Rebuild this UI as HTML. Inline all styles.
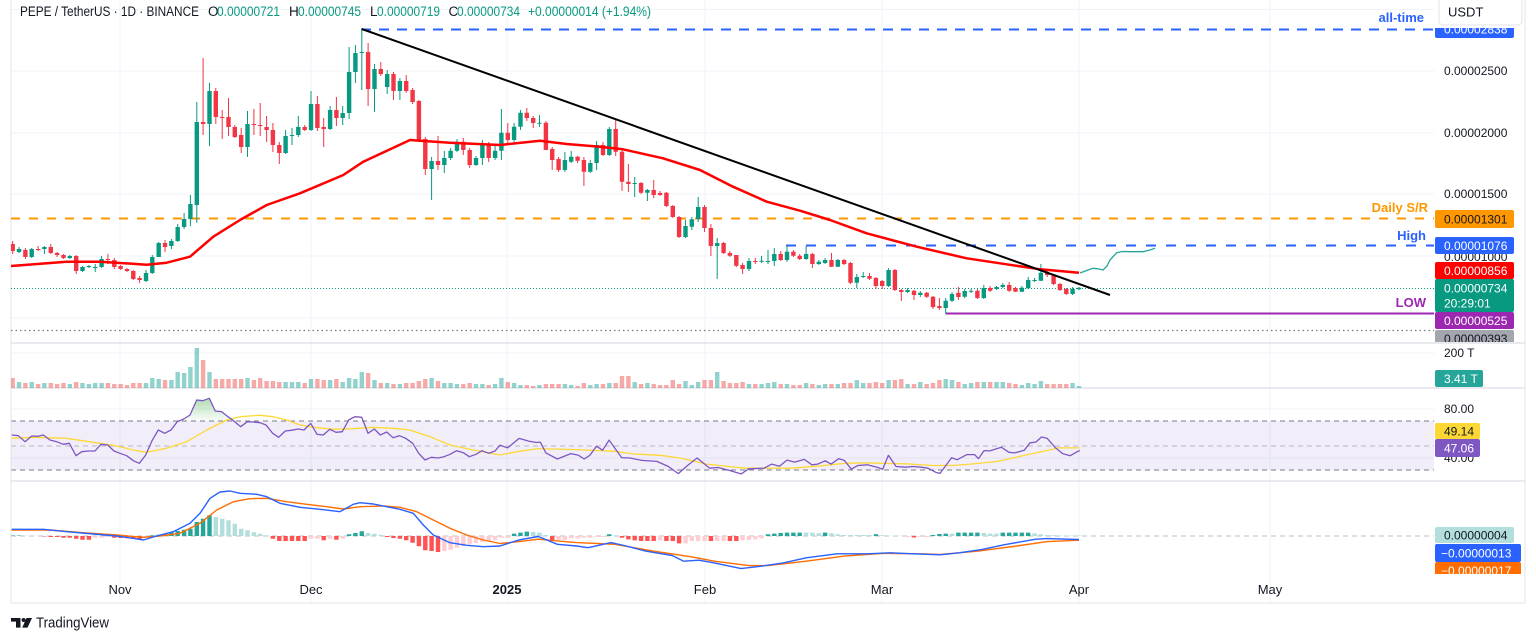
<!DOCTYPE html>
<html><head><meta charset="utf-8"><style>
html,body{margin:0;padding:0;background:#fff;}
svg{display:block;font-family:"Liberation Sans",Arial,sans-serif;}
</style></head><body>
<svg width="1536" height="641" viewBox="0 0 1536 641" xmlns="http://www.w3.org/2000/svg">
<defs>
<clipPath id="pane"><rect x="11" y="0" width="1423" height="603"/></clipPath>
<clipPath id="athTag"><rect x="1435" y="28" width="80" height="10"/></clipPath>
<clipPath id="grayTag"><rect x="1435" y="330" width="80" height="12"/></clipPath>
<clipPath id="orgTag"><rect x="1435" y="562" width="90" height="12"/></clipPath>
<linearGradient id="obg" x1="0" y1="0" x2="0" y2="1"><stop offset="0" stop-color="#4caf50" stop-opacity="0.45"/><stop offset="1" stop-color="#4caf50" stop-opacity="0.02"/></linearGradient>
</defs>
<rect width="1536" height="641" fill="#fff"/>

<!-- grid -->
<g stroke="#f0f3fa" stroke-width="1">
<path d="M11 9.5H1434M11 71H1434M11 133H1434M11 194H1434M11 256H1434M11 318H1434M11 353H1434M11 409H1434M11 458H1434"/>
<path d="M120 0V603M311 0V603M507 0V603M705 0V603M882 0V603M1079 0V603M1270 0V603"/>
</g>

<!-- RSI band -->
<rect x="11" y="421" width="1423" height="49" fill="#7e57c2" fill-opacity="0.1"/>
<g stroke="#787b86" stroke-width="1" stroke-dasharray="5 4" fill="none">
<path d="M11 421H1434M11 470H1434"/>
<path d="M11 446H1434" stroke-opacity="0.5"/>
<path d="M11 536H1434" stroke-opacity="0.5"/>
</g>

<!-- frame -->
<rect x="11" y="-1" width="1514" height="604" fill="none" stroke="#e0e3eb" stroke-width="1"/>
<path d="M11 343H1525M11 388H1525M11 481H1525" stroke="#e0e3eb" stroke-width="1.5"/>

<g clip-path="url(#pane)">
<!-- horizontal levels -->
<path d="M361 29.5H1434" stroke="#2962ff" stroke-width="2" stroke-dasharray="10 8"/>
<path d="M11 218.5H1434" stroke="#ff9800" stroke-width="2" stroke-dasharray="9 9"/>
<path d="M786 245.5H1434" stroke="#2962ff" stroke-width="2" stroke-dasharray="10 10"/>
<path d="M11 288.5H1434" stroke="#089981" stroke-width="1" stroke-dasharray="1 2"/>
<path d="M945.7 313.5H1434" stroke="#9c27b0" stroke-width="2"/>
<path d="M11 330.5H1434" stroke="#787b86" stroke-width="1.2" stroke-dasharray="1.5 3"/>

<!-- candles green -->
<path stroke="#089981" stroke-width="1" fill="none" d="M19 247V253M31.7 248V258M44.4 246V254M69.8 255V259M82.5 266V272M88.9 265V268M95.2 264V272M101.6 256V268M146 270V282M152.3 255V274M158.7 242V257M171.4 239V249M177.7 224V242M184.1 213V229M190.4 195V226M196.8 102V223M209.5 83V146M247.5 111V157M285.6 130V154M292 128V145M298.3 116V137M311 91V131M330.1 106V130M342.7 106V125M349.1 47V119M355.4 45V83M361.8 29V90M374.5 64V112M387.2 70V94M399.9 78V100M431.6 157V200M444.3 151V173M450.6 148V160M457 139V152M476 156V166M482.4 140V165M495.1 146V160M501.4 109V160M514.1 123V142M520.5 110V130M539.5 115V127M564.9 152V172M571.2 151V163M590.3 160V173M596.6 141V170M609.3 127V156M634.7 177V197M647.4 189V201M685.5 220V238M691.8 217V230M698.2 197V222M717.2 238V279M749 258V271M761.6 256V263M768 250V264M774.3 248V266M787 246V262M806.1 246V260M818.8 260V265M825.1 258V264M837.8 259V267M856.8 274V288M863.2 272V278M888.6 268V287M907.6 288V293M920.3 291V297M945.7 298V314M952 292V302M964.7 289V298M971.1 289V293M983.8 285V299M996.5 286V290M1002.8 283V288M1021.9 286V292M1028.2 277V289M1034.6 278V282M1040.9 264V281M1072.6 287V295M1079 287V290"/>
<path stroke="#089981" stroke-width="4.4" fill="none" d="M19 249V252M31.7 249V257M44.4 247V249M69.8 256V258M82.5 267V271M88.9 266V267M95.2 267V268M101.6 259V267M146 273V281M152.3 257V273M158.7 243V257M171.4 241V246M177.7 227V241M184.1 219V227M190.4 204V219M196.8 122V205M209.5 91V124M247.5 124V147M285.6 136V153M292 135V136M298.3 127V135M311 104V130M330.1 110V129M342.7 113V118M349.1 72V113M355.4 53V72M361.8 52V53M374.5 69V89M387.2 74V87M399.9 81V91M431.6 161V169M444.3 158V165M450.6 150.7V158M457 141.7V150.7M476 158V165M482.4 145V158M495.1 150.7V158M501.4 132.7V150.7M514.1 126.7V140M520.5 112.7V126.7M539.5 122.7V123.7M564.9 160V170M571.2 156.7V161.7M590.3 163V171.7M596.6 145V163M609.3 129V155M634.7 183V184M647.4 190V192.7M685.5 226V237M691.8 219.3V226.7M698.2 207V219M717.2 243V246M749 261V269M761.6 260.7V261.7M768 261V262M774.3 254V261M787 251.7V260M806.1 254V259M818.8 261.7V264M825.1 260V263M837.8 260V266.7M856.8 277V282.7M863.2 276V277M888.6 270V286M907.6 290V292M920.3 292.7V295M945.7 300.7V308M952 294V300.7M964.7 291V296.7M971.1 290.7V291.7M983.8 288V298M996.5 287V289M1002.8 285V287M1021.9 287.7V291.7M1028.2 280V288.3M1034.6 280V281M1040.9 272.7V280.7M1072.6 289V294M1079 287.7V289.3"/>
<!-- candles red -->
<path stroke="#f23645" stroke-width="1" fill="none" d="M12.7 241V254M25.4 248V259M38.1 246V251M50.8 244V254M57.1 252V257M63.5 254V259M76.2 255V274M107.9 254V264M114.3 258V269M120.6 265V270M127 268V272M133.3 270V280M139.6 276V283M165 240V252M203.1 58V135M215.8 88V124M222.2 110V139M228.5 98V136M234.8 125V138M241.2 128V153M253.9 109V135M260.2 103V136M266.6 116V142M272.9 123V152M279.3 142V164M304.7 125V131M317.4 96V131M323.7 118V147M336.4 97V126M368.1 43V106M380.8 62V76M393.5 72V100M406.2 75V93M412.6 88V104M418.9 100V142M425.3 137V175M438 136V170M463.3 138V155M469.7 148V168M488.7 142V162M507.8 123V143M526.8 108V121M533.2 116V128M545.9 121V150M552.2 147V170M558.6 157V172M577.6 156V163M583.9 157V186M603 142V156M615.7 119V156M622 148V191M628.4 164V192M641.1 182V194M653.7 180V198M660.1 191V196M666.4 192V207M672.8 205V218M679.1 216V238M704.5 205V232M710.9 224V256M723.6 242V254M729.9 251V257M736.3 255V267M742.6 263V274M755.3 258V264M780.7 251V261M793.4 250V257M799.7 254V260M812.4 253V268M831.5 253V267M844.1 259V265M850.5 262V284M869.5 273V280M875.9 277V289M882.2 280V289M894.9 269V291M901.3 289V301M914 290V300M926.7 292V298M933 296V309M939.4 298V310M958.4 287V300M977.4 289V299M990.1 286V292M1009.2 282V292M1015.5 287V292M1047.2 270V277M1053.6 274V285M1059.9 283V291M1066.3 288V295"/>
<path stroke="#f23645" stroke-width="4.4" fill="none" d="M12.7 244V251M25.4 250V257M38.1 249V250M50.8 247V253M57.1 253V255M63.5 255V258M76.2 256V271M107.9 259V260M114.3 260V267M120.6 266V269M127 269V271M133.3 271V279M139.6 278V280M165 243V247M203.1 122V124M215.8 91V117M222.2 117V118M228.5 117V127M234.8 127V137M241.2 135V147M253.9 124V125M260.2 125V126M266.6 127V130M272.9 130V145M279.3 145V153M304.7 127V130M317.4 104V128M323.7 127V129M336.4 110V118M368.1 52V89M380.8 69V74M393.5 74V91M406.2 81V91M412.6 90V102M418.9 101V141M425.3 139V169M438 161V165M463.3 141.7V150M469.7 150V165M488.7 145V158M507.8 132.7V140M526.8 112.7V118M533.2 118V123M545.9 122.7V150M552.2 149V160M558.6 159V170M577.6 156.7V160.7M583.9 160V171.7M603 145V155M615.7 129V151.7M622 151.7V181.7M628.4 181.7V184M641.1 183V192.7M653.7 190V195M660.1 193V195M666.4 192.7V206M672.8 206V217M679.1 217V237M704.5 207V228M710.9 228V246M723.6 243V253M729.9 253V255.7M736.3 255V265.7M742.6 265V269M755.3 261V262M780.7 254V260M793.4 251.7V255.7M799.7 255.7V259M812.4 254V264M831.5 260V266.7M844.1 260V264M850.5 263V282.7M869.5 276V278.7M875.9 278V286M882.2 281V286M894.9 270V290M901.3 290V292M914 290.7V295M926.7 292.7V296.7M933 296.7V307M939.4 306V308M958.4 292.7V297M977.4 290.7V298M990.1 288V290.7M1009.2 285V290.7M1015.5 288V291.7M1047.2 272.7V275M1053.6 275V284M1059.9 284V290M1066.3 289V294"/>

<!-- EMA -->
<polyline fill="none" stroke="#ff0000" stroke-width="2.5" stroke-linejoin="round" points="11,266 66.7,261.7 100,261.7 146.7,264.7 166.7,262.7 190,256.7 213.3,236.7 240,220 266.7,205 300,193.3 343.3,175 363.3,161.7 410,140 420,140.7 450,142.7 500,145 540,140.7 566.7,144 600,146.7 623,149.3 663,158.3 700,170 733,186.7 766.7,201.7 800,210.7 830,220 866.7,233.3 916.7,246.7 966.7,258.3 1000,263.3 1040,269.3 1079,272.7"/>
<!-- projection -->
<polyline fill="none" stroke="#26a69a" stroke-width="1.3" stroke-linejoin="round" points="1080,273 1088,270 1093,268.3 1098,268.8 1103,270 1107,266 1110,260 1116.7,252.7 1122,251.5 1130,251.7 1143,251.7 1150,250 1155,248.3"/>
<!-- trend line -->
<path d="M361.8 29L1110 295" stroke="#000" stroke-width="2" fill="none"/>

<!-- volume -->
<path stroke="#26a69a" stroke-opacity="0.5" stroke-width="4.4" fill="none" d="M19 388V382M31.7 388V382M44.4 388V383M69.8 388V384M82.5 388V383M88.9 388V384M95.2 388V383M101.6 388V383M146 388V383M152.3 388V378M158.7 388V379M171.4 388V380M177.7 388V372M184.1 388V373M190.4 388V367M196.8 388V348M209.5 388V372M247.5 388V378M285.6 388V382M292 388V382M298.3 388V382M311 388V379M330.1 388V380M342.7 388V382M349.1 388V378M355.4 388V379M361.8 388V372M374.5 388V380M387.2 388V383M399.9 388V384M431.6 388V378M444.3 388V383M450.6 388V383M457 388V384M476 388V384M482.4 388V384M495.1 388V384M501.4 388V378M514.1 388V383M520.5 388V385M539.5 388V385M564.9 388V384M571.2 388V385M590.3 388V385M596.6 388V384M609.3 388V383M634.7 388V382M647.4 388V383M685.5 388V381M691.8 388V385M698.2 388V382M717.2 388V372M749 388V384M761.6 388V384M768 388V383M774.3 388V382M787 388V384M806.1 388V383M818.8 388V385M825.1 388V384M837.8 388V384M856.8 388V380M863.2 388V383M888.6 388V380M907.6 388V384M920.3 388V382M945.7 388V379M952 388V380M964.7 388V384M971.1 388V383M983.8 388V382M996.5 388V382M1002.8 388V382M1021.9 388V385M1028.2 388V383M1034.6 388V384M1040.9 388V381M1072.6 388V383M1079 388V386"/>
<path stroke="#ef5350" stroke-opacity="0.5" stroke-width="4.4" fill="none" d="M12.7 388V378M25.4 388V383M38.1 388V384M50.8 388V383M57.1 388V384M63.5 388V383M76.2 388V382M107.9 388V383M114.3 388V384M120.6 388V384M127 388V385M133.3 388V383M139.6 388V383M165 388V380M203.1 388V360M215.8 388V379M222.2 388V379M228.5 388V379M234.8 388V379M241.2 388V379M253.9 388V380M260.2 388V378M266.6 388V381M272.9 388V381M279.3 388V382M304.7 388V383M317.4 388V379M323.7 388V380M336.4 388V379M368.1 388V373M380.8 388V383M393.5 388V384M406.2 388V383M412.6 388V383M418.9 388V381M425.3 388V379M438 388V381M463.3 388V384M469.7 388V383M488.7 388V385M507.8 388V382M526.8 388V385M533.2 388V386M545.9 388V384M552.2 388V384M558.6 388V384M577.6 388V386M583.9 388V383M603 388V384M615.7 388V383M622 388V376M628.4 388V376M641.1 388V384M653.7 388V384M660.1 388V385M666.4 388V385M672.8 388V380M679.1 388V384M704.5 388V380M710.9 388V380M723.6 388V381M729.9 388V383M736.3 388V383M742.6 388V382M755.3 388V384M780.7 388V384M793.4 388V385M799.7 388V385M812.4 388V384M831.5 388V384M844.1 388V383M850.5 388V383M869.5 388V383M875.9 388V382M882.2 388V383M894.9 388V380M901.3 388V379M914 388V384M926.7 388V384M933 388V383M939.4 388V380M958.4 388V382M977.4 388V382M990.1 388V382M1009.2 388V383M1015.5 388V384M1047.2 388V384M1053.6 388V384M1059.9 388V384M1066.3 388V384"/>

<!-- RSI -->
<polygon fill="url(#obg)" points="179,421 183.7,419 190,415 196.7,400 202.7,400.7 209.3,398.3 215.3,411 221.7,411.7 228,416.7 234,421"/>
<polyline fill="none" stroke="#fdd835" stroke-width="1.3" stroke-linejoin="round" points="11.7,438.3 33.3,437.3 66.7,438.3 100,443.3 116.7,446 133.3,450 146.7,452.3 166.7,448.3 186.7,441.7 206.7,430 226.7,420 240,416.7 260,415.3 273.3,416.7 286.7,420 300,425 313.3,427.3 333.3,429.3 353.3,428.7 373.3,427.3 393.3,428.3 410,430 430,436.7 450,445 473.3,450 500,455 519.1,451.3 538.3,448.6 576.5,449.6 614.8,451.3 633.9,454 660.7,455.3 679.9,458 706.7,464.1 744.9,468.2 790.9,468.2 821.5,465.8 844.4,463.4 863.6,462.8 882.7,463.4 905.7,463.8 932.5,465.5 951.6,465.5 970.7,464.1 997.5,461.4 1020.5,456.3 1043.4,451.3 1058.7,447.9 1079.8,447.9"/>
<polyline fill="none" stroke="#7e57c2" stroke-width="1.3" stroke-linejoin="round" points="11.7,435 18.3,435.7 25,441.7 31.7,436 38.3,436.3 43.3,435 50,440 56.7,441.7 63.3,444.3 69.3,443.3 76,455.7 81.7,451.7 88.3,451 95,451 101,444.3 107.7,445 114,451 120,453.3 126.7,455.7 133.3,460.7 139.3,463.3 145.7,455 152,440.7 158.3,430 164.7,433.3 171,430 177.3,421.7 183.7,419 190,415 196.7,400 202.7,400.7 209.3,398.3 215.3,411 221.7,411.7 228,416.7 234.7,421.7 240.7,426.7 247.3,421.7 253.3,422 260,422.7 266,425 272.7,433.3 278.7,437.3 285.3,431 291.3,430.3 298,429 304,430 310.7,423.3 317,434.3 323.3,435 329.7,429.3 336,432.3 342.3,431.7 348.7,420 355,416.7 361.7,417.3 368,433.3 374.3,429 380.3,435 386.7,432 393,437.7 399.3,435.7 405.7,438.3 412.7,443.3 418.7,453.3 425,460 431.3,457.3 438,458 444,456.7 450,454.3 456.7,450.7 463.3,452.7 469.3,456.7 476,454.3 482,450.7 488.7,453.3 495,451 500,445.2 507.7,447.9 519.1,438.4 528.7,441.1 536.4,442.5 540.2,442.1 545.9,452.9 557.4,459 570.8,453.6 578.5,455.3 584.2,459 589.9,455.3 596.4,446.2 602.6,450.2 609.1,440.1 621.7,457.7 630.1,458 641.6,460.4 656.9,461.4 668.4,466.5 678.3,473.6 687.5,465.5 697.1,458 709.7,468.2 718.1,467.5 729.6,470.5 741.1,473.9 748.8,468.8 764.1,468.2 771.7,464.1 779.4,466.2 787,460.1 794.7,462.1 804.3,459.4 811.9,464.8 817.6,464.1 825.3,460.8 831,464.1 838.7,458.7 844.4,460.4 851.3,469.2 857.8,465.5 867.4,464.8 877,467.2 882.7,469.2 888.4,455.3 896.1,466.5 905.7,467.2 913.3,466.5 921,467.2 927.9,468.2 936.3,472.6 940.1,473.3 951.6,457.7 957.3,459.7 966.9,454.6 974.6,454.6 978.4,458.7 984.1,450.6 989.8,450.9 1001.3,447.2 1008.9,452.3 1014.7,452.9 1024.3,450.2 1030,442.8 1035.8,442.1 1041.5,437 1047.3,438.4 1054.9,447.2 1062.6,453.6 1070.2,455.7 1077.9,451.3 1079.8,450.6"/>

<!-- MACD histogram -->
<path stroke="#26a69a" stroke-width="4.4" fill="none" d="M12.7 536V535.5M19 536V535.5M152.3 536V535.3M158.7 536V534.7M165 536V533.7M171.4 536V532.3M177.7 536V531M184.1 536V529.7M190.4 536V528.7M196.8 536V522M203.1 536V518.7M209.5 536V515.3M349.1 536V534.3M355.4 536V533M361.8 536V531.3M514.1 536V533.6M520.5 536V532.6M526.8 536V531.6M609.3 536V534.3M768 536V534.3M774.3 536V533.6M780.7 536V533M787 536V532.6M793.4 536V532.6M799.7 536V532.6M825.1 536V532.6M875.9 536V534.3M933 536V535M939.4 536V534M945.7 536V533.6M958.4 536V532.6M964.7 536V532.6M971.1 536V532.6M977.4 536V532.6M1002.8 536V532.6M1009.2 536V532.6M1015.5 536V532.6M1021.9 536V532.6M1028.2 536V532.6"/>
<path stroke="#b2dfdb" stroke-width="4.4" fill="none" d="M25.4 536V535.7M31.7 536V535.7M38.1 536V535.7M215.8 536V517M222.2 536V518.7M228.5 536V520.3M234.8 536V523.7M241.2 536V528.7M247.5 536V530.3M253.9 536V532.3M260.2 536V533.7M266.6 536V535.3M368.1 536V533M374.5 536V533.7M380.8 536V534.7M533.2 536V532M539.5 536V532.6M545.9 536V535M615.7 536V535.3M806.1 536V532.6M812.4 536V532.6M818.8 536V533.3M831.5 536V533.3M837.8 536V534.3M844.1 536V535M850.5 536V535M856.8 536V535M863.2 536V535M869.5 536V535M882.2 536V535.3M888.6 536V535.7M894.9 536V535.7M901.3 536V535.7M952 536V533.6M983.8 536V533M990.1 536V533.6M996.5 536V533.6M1034.6 536V533.3M1040.9 536V534.3M1047.2 536V535M1053.6 536V535.3M1059.9 536V535.5M1066.3 536V535.5M1072.6 536V535.5M1079 536V535.5"/>
<path stroke="#ff5252" stroke-width="4.4" fill="none" d="M44.4 536V536.5M50.8 536V537M57.1 536V537M63.5 536V537.7M69.8 536V537.7M76.2 536V538.7M82.5 536V539.7M88.9 536V539.7M114.3 536V537.7M120.6 536V538M127 536V538.3M133.3 536V539M139.6 536V539.3M272.9 536V538.7M279.3 536V541M285.6 536V541M292 536V541M298.3 536V541M304.7 536V541M323.7 536V540.3M336.4 536V539.7M387.2 536V537M393.5 536V538M399.9 536V538.7M406.2 536V540.3M412.6 536V542.7M418.9 536V546.3M425.3 536V550.3M431.6 536V551M438 536V552M552.2 536V540M622 536V537.7M628.4 536V539.4M634.7 536V540.4M641.1 536V541M647.4 536V541M653.7 536V541M666.4 536V541M672.8 536V541M679.1 536V543.4M710.9 536V541M729.9 536V541M736.3 536V541M914 536V537.5"/>
<path stroke="#ffcdd2" stroke-width="4.4" fill="none" d="M95.2 536V537.7M101.6 536V537.7M107.9 536V537M146 536V537M311 536V538.7M317.4 536V538.7M330.1 536V538.7M342.7 536V538.7M444.3 536V551M450.6 536V549.7M457 536V547.7M463.3 536V546.3M469.7 536V544.3M476 536V543M482.4 536V542M488.7 536V541M495.1 536V540.3M501.4 536V537.7M507.8 536V537.7M558.6 536V540M564.9 536V540M571.2 536V538.4M577.6 536V538.4M583.9 536V537.7M590.3 536V537.7M596.6 536V537M603 536V537M660.1 536V540.4M685.5 536V543.4M691.8 536V541M698.2 536V541M704.5 536V541M717.2 536V541M723.6 536V541M742.6 536V540.4M749 536V540M755.3 536V539.4M761.6 536V538.4M907.6 536V537M920.3 536V537M926.7 536V537"/>
<!-- MACD lines -->
<polyline fill="none" stroke="#ff6d00" stroke-width="1.4" stroke-linejoin="round" points="11.7,530 50,530 83.3,532.7 116.7,535 143.3,537.3 160,536 180,533.3 200,523.3 216.7,510 233.3,501.7 250,498.7 266.7,498.3 286.7,501.7 306.7,504.3 326.7,506.7 343.3,509 360,506.7 383.3,506 400,507.3 416.7,511.7 433.3,520 450,528.3 466.7,535 483.3,540 500,543.5 519.1,541.6 538.3,539.2 557.4,540.9 576.5,542.6 614.8,544.3 633.9,547.7 653.1,551.1 691.4,556.8 714.3,561.2 748.8,565.6 767.9,565.6 806.2,561.2 844.4,556.1 882.7,553.4 921,553.8 940.1,554.5 978.4,551.1 1016.7,546 1047.3,541.6 1079,540.2"/>
<polyline fill="none" stroke="#2962ff" stroke-width="1.4" stroke-linejoin="round" points="11.7,529.3 43.3,529.3 66.7,531.7 93.3,534 116.7,536 133.3,538.3 143.3,540 156.7,536 173.3,531.7 190,523.3 200,513.3 210,498.3 220,492 230,491 240,493.3 256.7,494.3 266.7,496.7 280,503.3 300,507.3 320,509.3 340,511.7 353.3,504.3 360,502.7 373.3,504 386.7,506.7 400,509.3 413.3,513.3 423.3,525 433.3,535 450,542.7 466.7,545.3 483.3,546.7 500,546 519.1,539.9 538.3,536.5 557.4,544.3 576.5,546 588,547.7 611,542.6 626.3,546 645.4,551.1 672.2,555.5 683.7,561.2 699,560.2 714.3,562.9 741.1,568.6 760.2,566.3 783.2,562.9 806.2,557.8 836.8,553.8 867.4,553.8 890.4,552.8 913.3,553.8 940.1,554.8 959.3,552.8 982.2,549.4 1005.2,544.6 1035.8,539.2 1047.3,538.6 1079,539.5"/>
</g>

<!-- level labels -->
<g font-size="13" text-anchor="end">
<text x="1424" y="22" fill="#2962ff" font-weight="bold">all-time</text>
<text x="1428" y="212" fill="#ff9800" font-weight="bold">Daily S/R</text>
<text x="1426" y="240" fill="#2962ff" font-weight="bold">High</text>
<text x="1426" y="307" fill="#9c27b0" font-weight="bold">LOW</text>
</g>

<!-- legend -->
<g font-size="13.5">
<text x="20" y="16" fill="#131722" textLength="179" lengthAdjust="spacingAndGlyphs">PEPE / TetherUS · 1D · BINANCE</text>
<text x="208" y="16" fill="#131722">O</text><text x="217" y="16" fill="#089981" textLength="63" lengthAdjust="spacingAndGlyphs">0.00000721</text>
<text x="289" y="16" fill="#131722">H</text><text x="298" y="16" fill="#089981" textLength="63" lengthAdjust="spacingAndGlyphs">0.00000745</text>
<text x="370" y="16" fill="#131722">L</text><text x="377" y="16" fill="#089981" textLength="63" lengthAdjust="spacingAndGlyphs">0.00000719</text>
<text x="448.5" y="16" fill="#131722">C</text><text x="457" y="16" fill="#089981" textLength="63" lengthAdjust="spacingAndGlyphs">0.00000734</text>
<text x="528" y="16" fill="#089981" textLength="123" lengthAdjust="spacingAndGlyphs">+0.00000014 (+1.94%)</text>
</g>

<!-- axis labels -->
<g font-size="12" fill="#131722">
<text x="1444" y="75">0.00002500</text>
<text x="1444" y="137">0.00002000</text>
<text x="1444" y="198">0.00001500</text>
<text x="1444" y="261">0.00001000</text>
<text x="1444" y="357">200 T</text>
<text x="1444" y="413">80.00</text>
<text x="1444" y="462">40.00</text>
</g>

<!-- tags -->
<g font-size="12">
<g clip-path="url(#athTag)"><rect x="1435" y="20" width="79" height="18" rx="2" fill="#2962ff"/><text x="1444" y="33.5" fill="#fff">0.00002838</text></g>
<rect x="1435" y="210" width="79" height="18" rx="2" fill="#ff9800"/><text x="1444" y="223.5" fill="#131722">0.00001301</text>
<rect x="1435" y="237" width="79" height="17" rx="2" fill="#2962ff"/><text x="1444" y="250" fill="#fff">0.00001076</text>
<rect x="1435" y="262" width="79" height="17" rx="2" fill="#ff0000"/><text x="1444" y="275" fill="#fff">0.00000856</text>
<rect x="1435" y="279" width="79" height="33" rx="2" fill="#089981"/><text x="1444" y="292.5" fill="#fff">0.00000734</text><text x="1444" y="307.5" fill="#fff">20:29:01</text>
<rect x="1435" y="312" width="79" height="17" rx="2" fill="#9c27b0"/><text x="1444" y="325" fill="#fff">0.00000525</text>
<g clip-path="url(#grayTag)"><rect x="1435" y="330" width="79" height="18" rx="2" fill="#a3a6af"/><text x="1444" y="343" fill="#131722">0.00000393</text></g>
<rect x="1435" y="370" width="48" height="17" rx="2" fill="#26a69a"/><text x="1444" y="383" fill="#fff">3.41 T</text>
<rect x="1435" y="423" width="45" height="16" rx="2" fill="#fdd835"/><text x="1444" y="435.5" fill="#131722">49.14</text>
<rect x="1435" y="439" width="45" height="18" rx="2" fill="#7e57c2"/><text x="1444" y="452.5" fill="#fff">47.06</text>
<rect x="1435" y="527" width="79" height="16" rx="2" fill="#b2dfdb"/><text x="1444" y="539.5" fill="#131722">0.00000004</text>
<rect x="1435" y="544" width="86" height="18" rx="2" fill="#2962ff"/><text x="1441" y="557.5" fill="#fff">−0.00000013</text>
<g clip-path="url(#orgTag)"><rect x="1435" y="562" width="86" height="18" rx="2" fill="#ff6d00"/><text x="1441" y="575" fill="#fff">−0.00000017</text></g>
</g>

<!-- USDT box -->
<rect x="1439" y="-4" width="83" height="29" rx="4" fill="#fff" stroke="#e0e3eb"/>
<text x="1448" y="16.5" font-size="13" fill="#131722">USDT</text>

<!-- time axis -->
<g font-size="13" fill="#131722" text-anchor="middle">
<text x="120" y="594">Nov</text>
<text x="311" y="594">Dec</text>
<text x="507" y="594" font-weight="bold">2025</text>
<text x="705" y="594">Feb</text>
<text x="882" y="594">Mar</text>
<text x="1079" y="594">Apr</text>
<text x="1270" y="594">May</text>
</g>

<!-- TradingView logo -->
<g fill="#131722">
<rect x="11" y="618" width="9.5" height="3.6"/>
<rect x="16" y="618" width="4.5" height="9.6"/>
<circle cx="23.6" cy="620" r="2"/>
<polygon points="26.5,618 32,618 27.5,627.6 22.2,627.6"/>
</g>
<text x="36" y="627.5" font-size="14.5" fill="#131722" textLength="73" lengthAdjust="spacingAndGlyphs">TradingView</text>
</svg>
</body></html>
